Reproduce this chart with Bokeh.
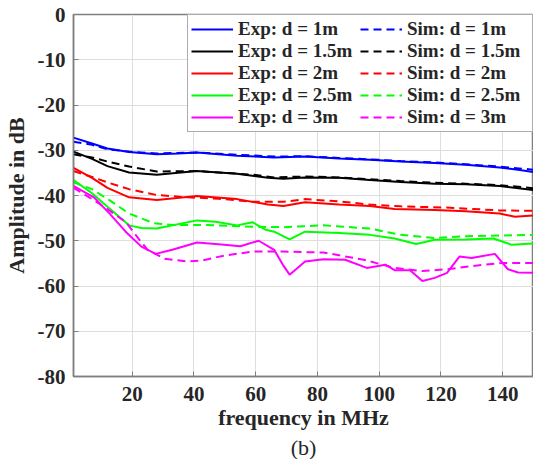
from bokeh.plotting import figure
from bokeh.models import Legend, LegendItem, FixedTicker, Title, Range1d
from bokeh.embed import file_html
from bokeh.resources import INLINE

# ---- data ----
labels_exp = ["Exp: d = 1m", "Exp: d = 1.5m", "Exp: d = 2m", "Exp: d = 2.5m", "Exp: d = 3m"]
labels_sim = ["Sim: d = 1m", "Sim: d = 1.5m", "Sim: d = 2m", "Sim: d = 2.5m", "Sim: d = 3m"]
colors = ["#0000FF", "#000000", "#FF0000", "#00FF00", "#FF00FF"]

exp1_f = [1, 7, 12, 19, 28, 35, 41, 54, 66, 76, 87, 97, 107, 118, 128, 139, 145, 150]
exp1_db = [-27.2, -28.5, -29.6, -30.4, -30.9, -30.7, -30.5, -31.2, -31.6, -31.4, -31.8, -32.1, -32.5, -32.8, -33.2, -33.8, -34.3, -34.8]
sim1_f = [1, 7, 12, 19, 28, 41, 54, 66, 76, 87, 97, 107, 118, 128, 139, 150]
sim1_db = [-28.1, -28.8, -29.8, -30.3, -30.7, -30.5, -31.0, -31.4, -31.3, -31.7, -32.0, -32.4, -32.7, -33.1, -33.6, -34.3]

exp15_f = [1, 7, 12, 19, 28, 41, 54, 64, 69, 76, 87, 97, 107, 118, 128, 139, 150]
exp15_db = [-30.3, -31.9, -33.5, -34.9, -35.4, -34.6, -35.2, -36.1, -36.3, -36.0, -36.1, -36.6, -37.0, -37.4, -37.5, -37.9, -38.8]
sim15_f = [1, 7, 12, 19, 28, 41, 59, 66, 76, 87, 97, 107, 118, 128, 139, 150]
sim15_db = [-30.9, -31.6, -32.5, -33.6, -34.7, -34.6, -35.4, -36.0, -35.8, -36.0, -36.4, -36.8, -37.2, -37.4, -37.7, -38.4]

exp2_f = [1, 7, 12, 19, 28, 41, 54, 64, 69, 76, 87, 97, 105, 118, 128, 139, 144, 150]
exp2_db = [-33.9, -36.1, -38.3, -40.4, -41.0, -40.1, -40.8, -42.0, -42.3, -41.5, -42.0, -42.3, -43.0, -43.2, -43.5, -44.0, -44.7, -44.4]
sim2_f = [1, 7, 12, 19, 28, 38, 48, 59, 69, 76, 87, 97, 107, 123, 139, 150]
sim2_db = [-34.6, -35.9, -37.1, -38.6, -39.9, -40.4, -40.7, -41.4, -41.4, -40.8, -41.3, -42.0, -42.4, -42.7, -43.3, -43.4]

exp25_f = [1, 7, 12, 19, 23, 28, 41, 47, 54, 59, 63, 66, 71, 76, 87, 97, 105, 112, 118, 128, 137, 143, 150]
exp25_db = [-36.6, -39.5, -42.5, -46.6, -47.2, -47.3, -45.5, -45.8, -46.6, -45.9, -47.5, -48.0, -49.7, -48.0, -48.3, -48.7, -49.5, -50.7, -49.8, -49.7, -49.5, -50.9, -50.6]
sim25_f = [1, 7, 13, 19, 27, 33, 43, 59, 69, 82, 97, 107, 118, 128, 150]
sim25_db = [-37.1, -38.6, -41.2, -44.0, -46.1, -46.5, -46.5, -46.9, -47.0, -46.6, -47.3, -48.7, -49.4, -49.0, -48.7]

exp3_f = [1, 7.6, 12.7, 17.9, 23, 27.6, 33, 41, 48, 55, 61, 66, 69, 71, 76, 82, 89, 96, 102, 105, 110, 114, 118, 122, 126, 130, 137.5, 141.7, 145, 150]
exp3_db = [-37.9, -40.4, -44.0, -48.0, -51.3, -52.9, -52.0, -50.4, -50.8, -51.2, -50.0, -52.0, -55.5, -57.5, -54.6, -54.1, -54.2, -56.0, -55.3, -56.5, -56.5, -58.9, -58.2, -57.1, -53.5, -53.8, -52.9, -56.3, -57.0, -57.1]
sim3_f = [1, 7, 12, 18, 22.5, 25, 30.6, 38, 43, 49.6, 59, 69, 82, 95, 105, 114, 122, 130, 140, 150]
sim3_db = [-38.3, -40.8, -43.0, -45.9, -49.9, -52.0, -54.0, -54.6, -54.3, -53.3, -52.4, -52.4, -52.6, -54.2, -56.0, -56.7, -56.3, -55.6, -54.9, -54.9]

x_ticks = [20, 40, 60, 80, 100, 120, 140]
y_ticks = [0, -10, -20, -30, -40, -50, -60, -70, -80]
y_tick_labels = ["0", "-10", "-20", "-30", "-40", "-50", "-60", "-70", "-80"]
x_start, x_end = 1, 150
y_start, y_end = -80, 0

exp_f = [exp1_f, exp15_f, exp2_f, exp25_f, exp3_f]
exp_db = [exp1_db, exp15_db, exp2_db, exp25_db, exp3_db]
sim_f = [sim1_f, sim15_f, sim2_f, sim25_f, sim3_f]
sim_db = [sim1_db, sim15_db, sim2_db, sim25_db, sim3_db]

FONT = "Liberation Serif"
AXC = "#7f7f7f"
TXT = "#262626"

p = figure(width=533, height=459, output_backend="svg", toolbar_location=None,
           x_range=Range1d(x_start, x_end), y_range=Range1d(y_start, y_end),
           min_border_left=71, min_border_right=0, min_border_top=14, min_border_bottom=0)
p.outline_line_color = AXC
p.outline_line_width = 1.5

exp_r, sim_r = [], []
for i in range(5):
    exp_r.append(p.line(exp_f[i], exp_db[i], line_color=colors[i], line_width=2))
for i in range(5):
    sim_r.append(p.line(sim_f[i], sim_db[i], line_color=colors[i], line_width=2, line_dash="8 5"))

for ax in (p.xaxis[0], p.yaxis[0]):
    ax.axis_line_color = AXC
    ax.axis_line_width = 1.5
    ax.major_tick_line_color = AXC
    ax.major_tick_in = 5
    ax.major_tick_out = 0
    ax.minor_tick_line_color = None
    ax.major_label_text_font = FONT
    ax.major_label_text_font_style = "bold"
    ax.major_label_text_font_size = "21px"
    ax.major_label_text_color = TXT
    ax.axis_label_text_font = FONT
    ax.axis_label_text_font_style = "bold"
    ax.axis_label_text_font_size = "22px"
    ax.axis_label_text_color = TXT

p.xaxis[0].ticker = FixedTicker(ticks=x_ticks)
p.yaxis[0].ticker = FixedTicker(ticks=y_ticks)
p.yaxis[0].major_label_overrides = {t: s for t, s in zip(y_ticks, y_tick_labels)}
p.xaxis[0].axis_label = "frequency in MHz"
p.yaxis[0].axis_label = "Amplitude in dB"
p.xaxis[0].major_label_standoff = 10
p.yaxis[0].major_label_standoff = 8
p.xaxis[0].axis_label_standoff = 1
p.yaxis[0].axis_label_standoff = 6

p.xgrid.ticker = FixedTicker(ticks=x_ticks)
p.ygrid.ticker = FixedTicker(ticks=y_ticks)
p.grid.grid_line_color = "#dedede"
p.grid.grid_line_width = 1

items = [LegendItem(label=labels_exp[i], renderers=[exp_r[i]]) for i in range(5)] + \
        [LegendItem(label=labels_sim[i], renderers=[sim_r[i]]) for i in range(5)]
legend = Legend(items=items, ncols=2, location="top_right", margin=0, padding=3,
                spacing=0, glyph_width=42, glyph_height=22, label_height=22,
                label_width=122, label_standoff=5, label_text_font=FONT,
                label_text_font_style="bold", label_text_font_size="19px",
                label_text_color=TXT, label_text_baseline="middle",
                border_line_color="#595959",
                border_line_width=1.5, background_fill_alpha=1.0)
p.add_layout(legend)

# panel caption below the x-axis title
p.add_layout(Title(text="(b)", align="center", text_font=FONT, text_font_style="normal",
                   text_font_size="22px", text_color=TXT, standoff=0, offset=0), "below")

open("out.html", "w").write(file_html(p, INLINE))
